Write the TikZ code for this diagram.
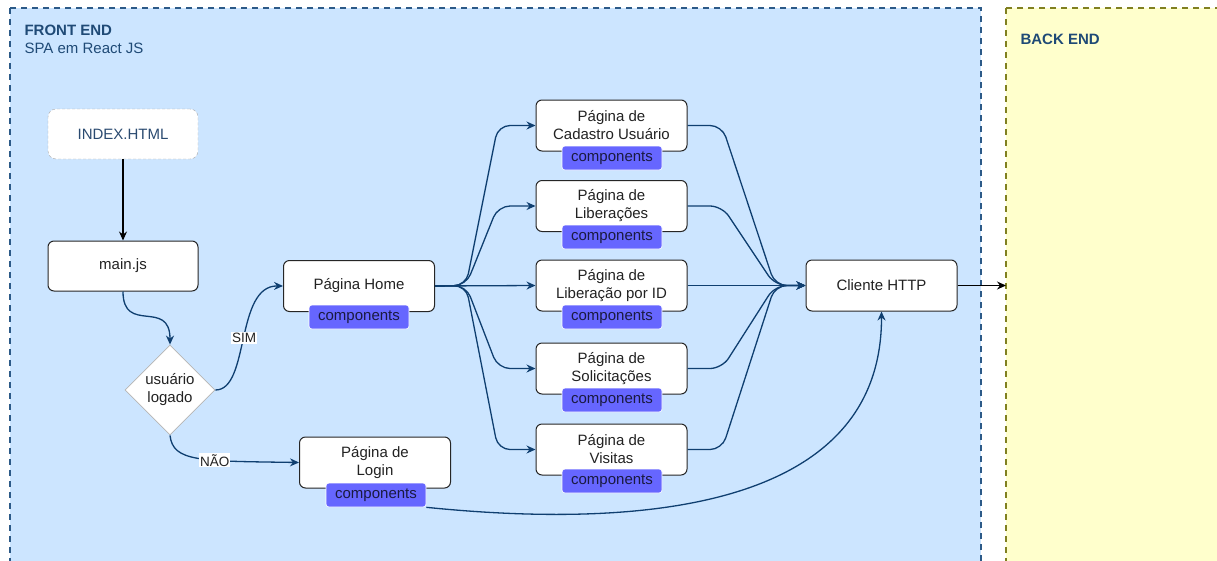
\documentclass[tikz,border=0pt]{standalone}
\usepackage{fontspec}
\setmainfont{Liberation Sans}
\usetikzlibrary{shapes.geometric,arrows.meta}

\definecolor{frontfill}{HTML}{CCE5FF}
\definecolor{frontline}{HTML}{2C5A88}
\definecolor{backfill}{HTML}{FFFFCC}
\definecolor{backline}{HTML}{808020}
\definecolor{titlec}{HTML}{1F4A76}
\definecolor{textc}{HTML}{222222}
\definecolor{edgec}{HTML}{0F3F70}
\definecolor{badgec}{HTML}{6666FF}
\definecolor{badgetext}{HTML}{1A1A40}
\definecolor{indexline}{HTML}{AAAAAA}
\definecolor{indextext}{HTML}{2A4A70}
\definecolor{diamondline}{HTML}{B5B5B5}

\newcommand\nodefont{\fontsize{15}{18}\selectfont}
\newcommand\labelfont{\fontsize{13.5}{15}\selectfont}

\tikzset{
  page/.style={draw=black!85, fill=white, rounded corners=6pt, line width=1pt,
    minimum width=151pt, minimum height=51pt, inner sep=0pt,
    align=center, font=\nodefont, text=textc},
  badge/.style={draw=white, fill=badgec, rounded corners=3pt, line width=0.6pt,
    minimum width=100pt, minimum height=24pt, inner sep=0pt,
    font=\nodefont, text=badgetext},
  link/.style={draw=edgec, line width=1.3pt, -{Stealth[length=9pt,width=8pt]}},
  fan/.style={link, rounded corners=12pt},
  edgelabel/.style={fill=white, inner sep=1pt, font=\labelfont, text=textc},
  region/.style={dashed, dash pattern=on 6pt off 5pt, line width=2.5pt},
}

\begin{document}
\begin{tikzpicture}[x=1pt, y=-1pt]
\useasboundingbox (0,0) rectangle (1217,560);

% the two regions
\draw[region, fill=frontfill, draw=frontline] (10,8) rectangle (981,580);
\draw[region, fill=backfill, draw=backline] (1006,8) rectangle (1240,580);

\node[anchor=west, font=\nodefont\bfseries, text=titlec] (fronttitle) at (21,30) {FRONT END};
\node[anchor=west, font=\nodefont, text=titlec] (frontsub) at (21,48) {SPA em React JS};
\node[anchor=west, font=\nodefont\bfseries, text=titlec] (backtitle) at (1017,39) {BACK END};

% entry point
\node[draw=indexline, dashed, dash pattern=on 3pt off 2pt, fill=white, rounded corners=8pt,
      minimum width=150pt, minimum height=50pt, font=\nodefont, text=indextext] (index) at (123,134) {INDEX.HTML};
\node[page, minimum width=150pt, minimum height=50pt] (main) at (123,266) {main.js};

\node[diamond, aspect=1, draw=diamondline, fill=white, line width=0.8pt, minimum size=90pt,
      inner sep=0pt, align=center, font=\nodefont, text=textc] (logged) at (170,390) {usuário\\logado};

% pages
\node[page] (home) at (359,286) {Página Home};
\node[badge] (homec) at (359,317) {components};

\node[page] (login) at (375,462.5) {Página de\\Login};
\node[badge] (loginc) at (376,495) {components};

\node[page] (cad) at (611.5,125.5) {Página de\\Cadastro Usuário};
\node[badge] (cadc) at (612,158) {components};

\node[page] (libs) at (611.5,206) {Página de\\Liberações};
\node[badge] (libsc) at (612,237) {components};

\node[page] (libid) at (611.5,285.5) {Página de\\Liberação por ID};
\node[badge] (libidc) at (612,317) {components};

\node[page] (sol) at (611.5,368.5) {Página de\\Solicitações};
\node[badge] (solc) at (612,400) {components};

\node[page] (vis) at (611.5,449.5) {Página de\\Visitas};
\node[badge] (visc) at (612,481) {components};

\node[page] (http) at (881.5,285.5) {Cliente HTTP};

\coordinate (backin) at (1006,285.5);

% connectors
\draw[line width=1.2pt, black, -{Stealth[length=9pt,width=8pt]}] (index) -- (main);
\draw[link] (main.south) .. controls (123,335) and (170,298) .. (logged.north);
\draw[link] (logged.east) .. controls (250,390) and (235,285.5) .. (home.west)
   node[edgelabel, pos=0.5] {SIM};
\draw[link] (logged.south) .. controls (173,462) and (200,461) .. (login.west)
   node[edgelabel, pos=0.62] {NÃO};

\draw[fan] (home.east) -- (466,285.5) -- (498,125.5) -- (cad.west);
\draw[fan] (home.east) -- (466,285.5) -- (498,206) -- (libs.west);
\draw[link] (home.east) -- (libid.west);
\draw[fan] (home.east) -- (466,285.5) -- (498,368.5) -- (sol.west);
\draw[fan] (home.east) -- (466,285.5) -- (498,449.5) -- (vis.west);

\draw[fan] (cad.east) -- (722,125.5) -- (775,285.5) -- (http.west);
\draw[fan] (libs.east) -- (722,206) -- (775,285.5) -- (http.west);
\draw[link] (libid.east) -- (http.west);
\draw[fan] (sol.east) -- (722,368.5) -- (775,285.5) -- (http.west);
\draw[fan] (vis.east) -- (722,449.5) -- (775,285.5) -- (http.west);

\draw[link] (loginc.south east) .. controls (600,525) and (882,525) .. (http.south);

\draw[line width=1.2pt, black, -{Stealth[length=9pt,width=8pt]}] (http.east) -- (backin);
\end{tikzpicture}
\end{document}
